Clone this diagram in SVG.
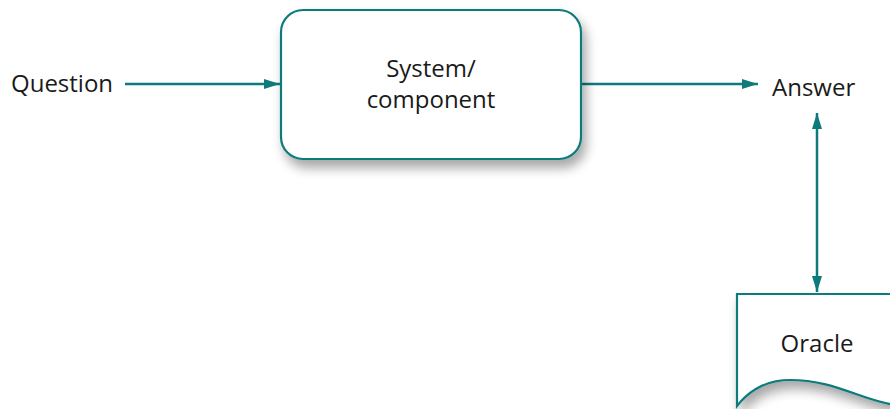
<svg xmlns="http://www.w3.org/2000/svg" width="890" height="409" viewBox="0 0 890 409">
  <style>
    .lbl { font-family: "Open Sans", "Noto Sans", "Liberation Sans", sans-serif; font-size: 24px; fill: #1a1a1a; }
    .edge { stroke: #0f7a7b; stroke-width: 2.5; fill: none; }
    .shape { fill: #ffffff; stroke: #0f7a7b; stroke-width: 2.2; }
  </style>
  <defs>
    <marker id="arrow" viewBox="0 0 16 10" refX="16" refY="5" markerWidth="16" markerHeight="10" markerUnits="userSpaceOnUse" orient="auto-start-reverse">
      <path d="M0,0 L16,5 L0,10 z" fill="#0f7a7b"/>
    </marker>
    <filter id="shadow" x="-20%" y="-20%" width="150%" height="160%">
      <feGaussianBlur in="SourceAlpha" stdDeviation="6"/>
      <feOffset dx="4" dy="8" result="b"/>
      <feComponentTransfer><feFuncA type="linear" slope="0.35"/></feComponentTransfer>
      <feMerge><feMergeNode/><feMergeNode in="SourceGraphic"/></feMerge>
    </filter>
  </defs>
  <rect width="890" height="409" fill="#ffffff"/>

  <g id="connectors">
    <line class="edge" x1="125" y1="84" x2="280" y2="84" marker-end="url(#arrow)"/>
    <line class="edge" x1="582" y1="84" x2="758" y2="84" marker-end="url(#arrow)"/>
    <line class="edge" x1="817" y1="113" x2="817" y2="292" marker-start="url(#arrow)" marker-end="url(#arrow)"/>
  </g>

  <g id="question">
    <text class="lbl" x="11" y="92">Question</text>
  </g>

  <g id="system">
    <rect class="shape" x="281" y="10" width="300" height="149" rx="22" ry="22" filter="url(#shadow)"/>
    <text class="lbl" x="431" y="77" text-anchor="middle">System/</text>
    <text class="lbl" x="431" y="108" text-anchor="middle">component</text>
  </g>

  <g id="answer">
    <text class="lbl" x="772" y="96">Answer</text>
  </g>

  <g id="oracle">
    <path class="shape" filter="url(#shadow)" d="M737,294 L895,294 L895,405 C860,400 835,380 790,380 C765,380 748,392 737,406 Z"/>
    <text class="lbl" x="817" y="352" text-anchor="middle">Oracle</text>
  </g>
</svg>
